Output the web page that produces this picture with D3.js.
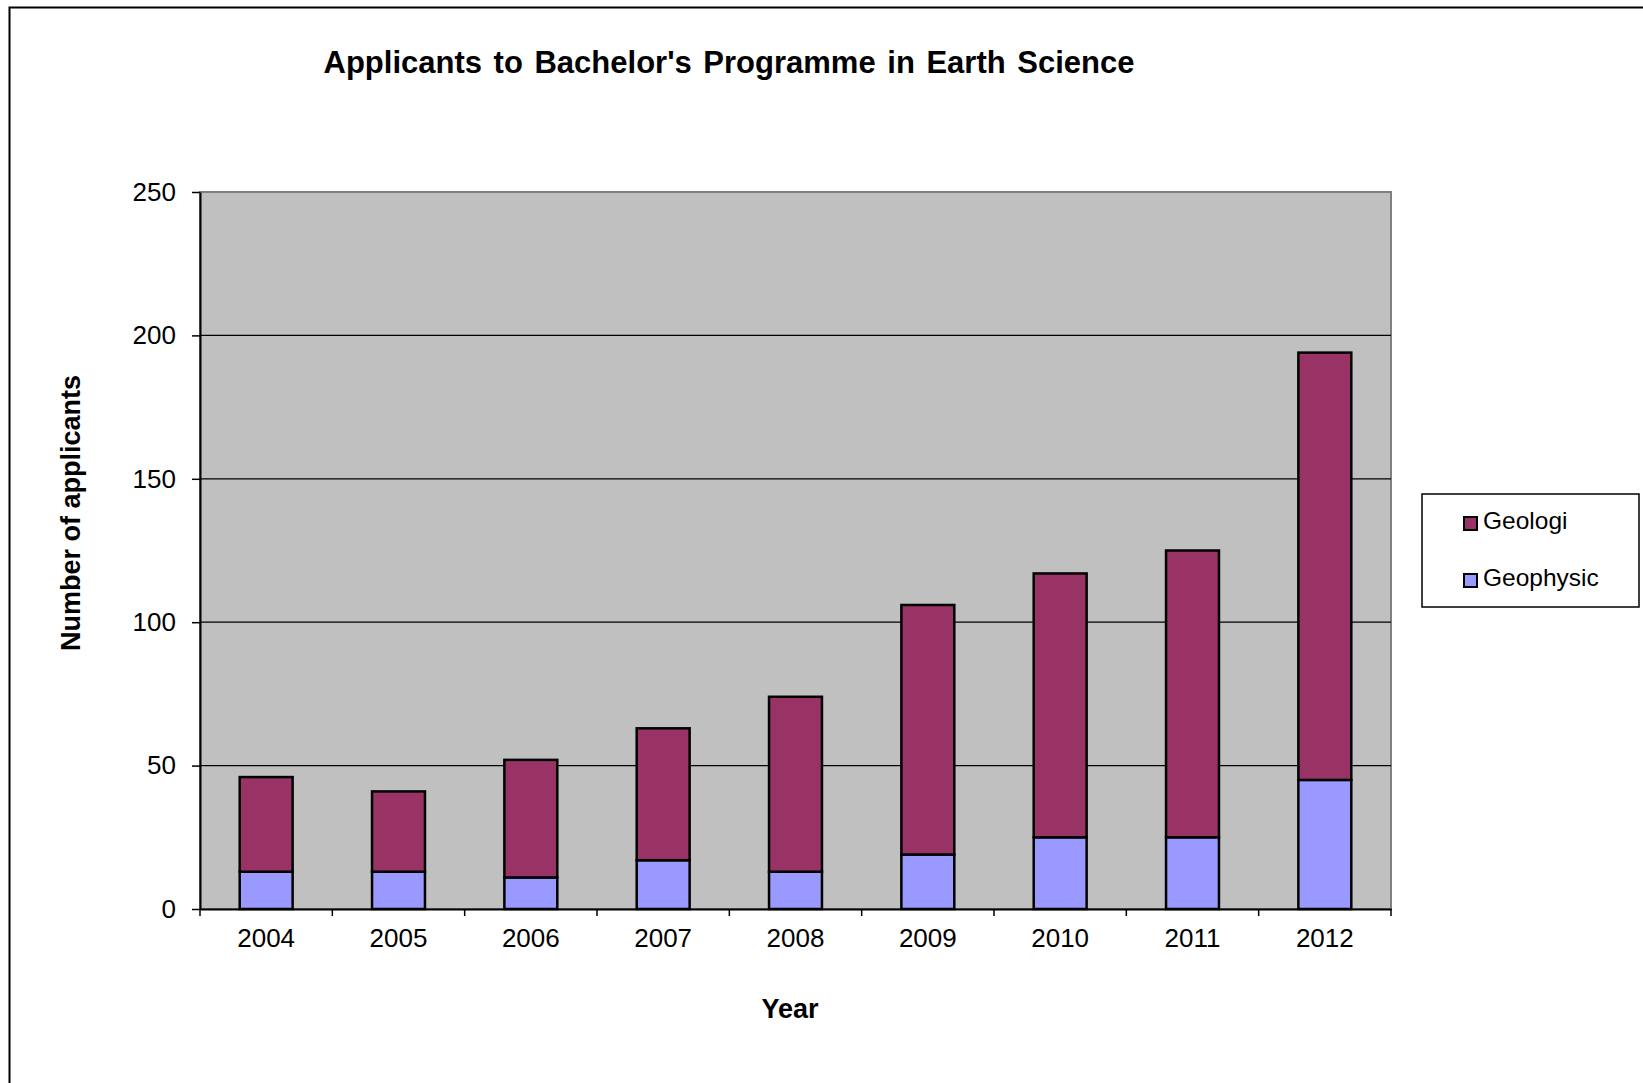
<!DOCTYPE html>
<html>
<head>
<meta charset="utf-8">
<script src="https://cdn.jsdelivr.net/npm/d3@7"></script>
<style>
  html, body { margin: 0; padding: 0; background: #fff; }
  svg { display: block; font-family: Arial, "Liberation Sans", sans-serif; }
</style>
</head>
<body>
<svg id="chart" width="1643" height="1083"></svg>
<script>
// Applicants per year, split by programme
const years = ["2004", "2005", "2006", "2007", "2008", "2009", "2010", "2011", "2012"];
const geophysic = [13, 13, 11, 17, 13, 19, 25, 25, 45];
const geologi = [33, 28, 41, 46, 61, 87, 92, 100, 149];
const seriesNames = ["Geologi", "Geophysic"];
const yTicks = [0, 50, 100, 150, 200, 250];

const colors = { Geologi: "#993366", Geophysic: "#9999FF" };

const svg = d3.select("#chart");

// outer chart frame
svg.append("rect")
  .attr("x", 9.5).attr("y", 7.5)
  .attr("width", 1700).attr("height", 1200)
  .attr("fill", "#fff")
  .attr("stroke", "#000").attr("stroke-width", 2);

const plot = { left: 200, right: 1391, top: 192, bottom: 909 };

const x = d3.scaleBand().domain(years).range([plot.left, plot.right]).padding(0);
const y = d3.scaleLinear().domain([0, 250]).range([plot.bottom, plot.top]);

// plot area background
svg.append("rect")
  .attr("x", plot.left).attr("y", plot.top)
  .attr("width", plot.right - plot.left).attr("height", plot.bottom - plot.top)
  .attr("fill", "#C0C0C0")
  .attr("stroke", "#808080").attr("stroke-width", 2);

// horizontal gridlines
svg.append("g")
  .selectAll("line")
  .data(yTicks.filter(v => v > 0 && v < 250))
  .join("line")
  .attr("x1", plot.left).attr("x2", plot.right)
  .attr("y1", d => y(d)).attr("y2", d => y(d))
  .attr("stroke", "#000").attr("stroke-width", 1.2);

// stacked bars
const table = years.map((yr, i) => ({ year: yr, Geophysic: geophysic[i], Geologi: geologi[i] }));
const stack = d3.stack().keys(["Geophysic", "Geologi"])(table);
const barW = x.bandwidth() * 0.4;

svg.append("g")
  .selectAll("g")
  .data(stack)
  .join("g")
  .attr("fill", d => colors[d.key])
  .selectAll("rect")
  .data(d => d)
  .join("rect")
  .attr("x", d => x(d.data.year) + (x.bandwidth() - barW) / 2)
  .attr("width", barW)
  .attr("y", d => y(d[1]))
  .attr("height", d => y(d[0]) - y(d[1]))
  .attr("stroke", "#000")
  .attr("stroke-width", 2.5);

// y axis
const yAxis = svg.append("g")
  .attr("transform", `translate(${plot.left},0)`)
  .call(d3.axisLeft(y).tickValues(yTicks).tickSize(8).tickPadding(16).tickSizeOuter(0));
yAxis.select(".domain").attr("stroke", "#000").attr("stroke-width", 2);
yAxis.selectAll(".tick line").attr("stroke", "#000").attr("stroke-width", 1.5);
yAxis.selectAll(".tick text")
  .attr("font-size", 26).attr("fill", "#000")
  .attr("font-family", "Arial, 'Liberation Sans', sans-serif");

// x axis: labels centred under bars, tick marks at category boundaries
const xAxis = svg.append("g")
  .attr("transform", `translate(0,${plot.bottom})`)
  .call(d3.axisBottom(x).tickSize(0).tickPadding(20).tickSizeOuter(0));
xAxis.select(".domain").attr("stroke", "#000").attr("stroke-width", 2);
xAxis.selectAll(".tick text")
  .attr("font-size", 26).attr("fill", "#000")
  .attr("font-family", "Arial, 'Liberation Sans', sans-serif");

const boundaries = years.map(yr => x(yr)).concat([x(years[years.length - 1]) + x.bandwidth()]);
svg.append("g")
  .selectAll("line")
  .data(boundaries)
  .join("line")
  .attr("x1", d => d).attr("x2", d => d)
  .attr("y1", plot.bottom).attr("y2", plot.bottom + 7)
  .attr("stroke", "#000").attr("stroke-width", 1.5);

// title
svg.append("text")
  .attr("x", 729).attr("y", 73)
  .attr("text-anchor", "middle")
  .attr("font-size", 31).attr("font-weight", "bold")
  .attr("word-spacing", 3)
  .text("Applicants to Bachelor's Programme in Earth Science");

// axis titles
svg.append("text")
  .attr("x", 790).attr("y", 1018)
  .attr("text-anchor", "middle")
  .attr("font-size", 27).attr("font-weight", "bold")
  .text("Year");

svg.append("text")
  .attr("transform", "translate(80,513) rotate(-90)")
  .attr("text-anchor", "middle")
  .attr("font-size", 27).attr("font-weight", "bold")
  .text("Number of applicants");

// legend
const legend = svg.append("g");
legend.append("rect")
  .attr("x", 1422).attr("y", 494)
  .attr("width", 217).attr("height", 113)
  .attr("fill", "#fff").attr("stroke", "#000").attr("stroke-width", 1.5);

const items = legend.selectAll("g.item")
  .data(seriesNames)
  .join("g")
  .attr("class", "item")
  .attr("transform", (d, i) => `translate(1464,${517 + i * 57})`);
items.append("rect")
  .attr("width", 13).attr("height", 13)
  .attr("fill", d => colors[d])
  .attr("stroke", "#000").attr("stroke-width", 2);
items.append("text")
  .attr("x", 19).attr("y", 12)
  .attr("font-size", 24.5)
  .text(d => d);
</script>
</body>
</html>
